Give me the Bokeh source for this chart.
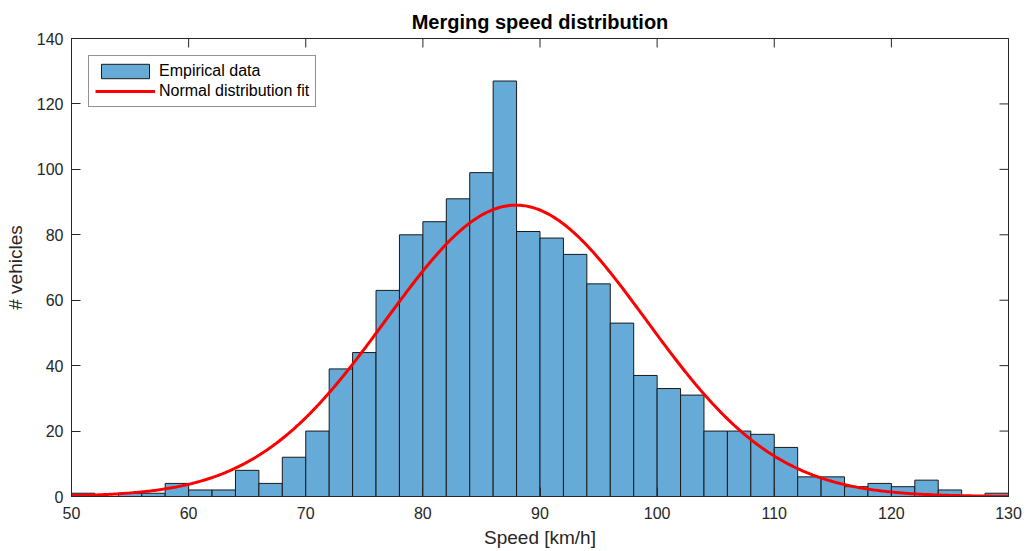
import numpy as np
from bokeh.plotting import figure
from bokeh.models import FixedTicker, ColumnDataSource
from bokeh.embed import file_html
from bokeh.resources import INLINE

# ---- data ----
bin_start = 50
bin_width = 2
counts = [1, 0, 1, 1, 4, 2, 2, 8, 4, 12, 20,            # 50 .. 72
          39, 44, 63, 80, 84, 91, 99, 127, 81, 79,      # 72 .. 92
          74, 65, 53, 37, 33, 31, 20, 20, 19, 15,       # 92 .. 112
          6, 6, 3, 4, 3, 5, 2, 0, 1]                    # 112 .. 130
fit_mean = 87.95
fit_std = 11.1
x_ticks = [50, 60, 70, 80, 90, 100, 110, 120, 130]
y_ticks = [0, 20, 40, 60, 80, 100, 120, 140]

title_text = "Merging speed distribution"
x_label = "Speed [km/h]"
y_label = "# vehicles"

# ---- derived ----
n_bins = len(counts)
left = [bin_start + i * bin_width for i in range(n_bins)]
right = [l + bin_width for l in left]
bars = ColumnDataSource(dict(left=left, right=right, top=counts, bottom=[0] * n_bins))

total = sum(counts)
xs = np.linspace(x_ticks[0], x_ticks[-1], 600)
ys = total * bin_width * np.exp(-0.5 * ((xs - fit_mean) / fit_std) ** 2) / (fit_std * np.sqrt(2 * np.pi))

FONT = "Liberation Sans"
AX = "#262626"
TICK_LEN = 9

p = figure(width=1027, height=551, x_range=(x_ticks[0], x_ticks[-1]), y_range=(y_ticks[0], y_ticks[-1]),
           output_backend="svg", toolbar_location=None,
           min_border_left=71, min_border_right=19, min_border_top=38, min_border_bottom=55,
           background_fill_color="white", border_fill_color="white")

p.quad(left="left", right="right", top="top", bottom="bottom", source=bars,
       fill_color="#66AAD7", line_color="#1a1a1a", line_width=1,
       legend_label="Empirical data")
p.line(xs, ys, line_color="#FF0000", line_width=3, legend_label="Normal distribution fit")

# mirrored inward ticks on the top and right edges of the box (clipped to the frame)
p.scatter(x=x_ticks, y=[y_ticks[-1]] * len(x_ticks), marker="dash", size=2 * TICK_LEN,
          angle=np.pi / 2, line_color=AX, line_width=1)
p.scatter(x=[x_ticks[-1]] * len(y_ticks), y=y_ticks, marker="dash", size=2 * TICK_LEN,
          angle=0, line_color=AX, line_width=1)

p.grid.visible = False
p.outline_line_color = AX
p.outline_line_width = 1
p.outline_line_alpha = 1

def style_axis(ax, ticks):
    ax.ticker = FixedTicker(ticks=ticks)
    ax.major_tick_in = TICK_LEN
    ax.major_tick_out = 0
    ax.minor_tick_in = 0
    ax.minor_tick_out = 0
    ax.major_tick_line_color = AX
    ax.axis_line_color = AX
    ax.major_label_text_font = FONT
    ax.major_label_text_color = AX
    ax.major_label_text_font_size = "16px"
    ax.axis_label_text_font = FONT
    ax.axis_label_text_color = AX
    ax.axis_label_text_font_style = "normal"
    ax.axis_label_text_font_size = "19px"

xa = p.xaxis[0]
style_axis(xa, x_ticks)
xa.axis_label = x_label
xa.major_label_standoff = 10
xa.axis_label_standoff = 5

ya = p.yaxis[0]
style_axis(ya, y_ticks)
ya.axis_label = y_label
ya.major_label_standoff = 8
ya.axis_label_standoff = 8

p.title.text = title_text
p.title.align = "center"
p.title.text_font = FONT
p.title.text_font_size = "20px"
p.title.text_font_style = "bold"
p.title.text_color = "black"
p.title.standoff = 11

lg = p.legend[0]
lg.location = "top_left"
lg.margin = 17
lg.padding = 6
lg.spacing = 2
lg.glyph_width = 60
lg.glyph_height = 18
lg.label_height = 18
lg.label_standoff = 4
lg.label_text_font = FONT
lg.label_text_font_size = "16px"
lg.label_text_color = "black"
lg.border_line_color = AX
lg.border_line_width = 1
lg.background_fill_color = "white"
lg.background_fill_alpha = 1

open("out.html", "w").write(file_html(p, INLINE))
